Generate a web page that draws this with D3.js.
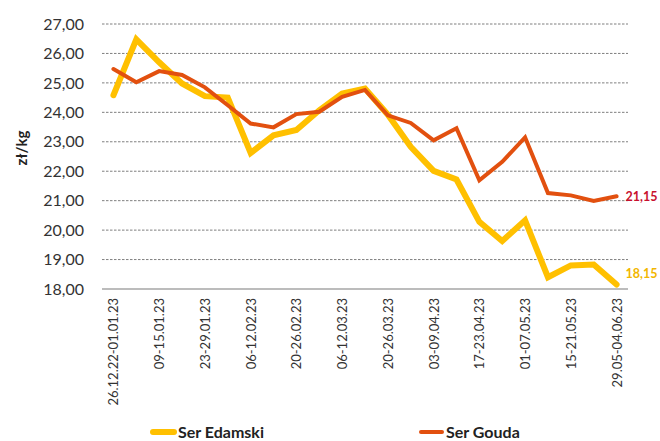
<!DOCTYPE html>
<html>
<head>
<meta charset="utf-8">
<script src="https://cdn.jsdelivr.net/npm/d3@7"></script>
<style>
  body { margin: 0; background: #fff; }
  svg { display: block; font-family: Lato, "Open Sans", sans-serif; }
</style>
</head>
<body>
<svg id="chart" width="660" height="441"></svg>
<script>
const weeks = [
    "26.12.22-01.01.23", "02-08.01.23", "09-15.01.23", "16-22.01.23", "23-29.01.23",
    "30.01-05.02.23", "06-12.02.23", "13-19.02.23", "20-26.02.23", "27.02-05.03.23",
    "06-12.03.23", "13-19.03.23", "20-26.03.23", "27.03-02.04.23", "03-09.04.23",
    "10-16.04.23", "17-23.04.23", "24-30.04.23", "01-07.05.23", "08-14.05.23",
    "15-21.05.23", "22-28.05.23", "29.05-04.06.23"
];
const edamski = [24.58, 26.48, 25.70, 24.98, 24.55, 24.50, 22.62, 23.22, 23.40, 24.07,
    24.64, 24.81, 23.92, 22.83, 22.01, 21.72, 20.28, 19.63, 20.33, 18.40, 18.80, 18.83, 18.15];
const gouda = [25.47, 25.02, 25.40, 25.27, 24.85, 24.24, 23.62, 23.49, 23.94, 24.02,
    24.53, 24.76, 23.90, 23.64, 23.05, 23.46, 21.69, 22.32, 23.15, 21.26, 21.18, 20.99, 21.15];
const yTicks = [18, 19, 20, 21, 22, 23, 24, 25, 26, 27];

const CONF = {
    LEFT: 102,
    RIGHT: 628,
    TOP: 24,
    BOTTOM: 289,
};

const svg = d3.select("#chart");
const fmt = v => d3.format(".2f")(v).replace(".", ",");

const x = d3.scalePoint()
    .domain(weeks)
    .range([CONF.LEFT, CONF.RIGHT])
    .padding(0.5);

const y = d3.scaleLinear()
    .domain([18, 27])
    .range([CONF.BOTTOM, CONF.TOP]);

// grid
svg.append("g")
    .selectAll("line")
    .data(yTicks.filter(d => d > 18))
    .join("line")
    .attr("x1", CONF.LEFT)
    .attr("x2", CONF.RIGHT)
    .attr("y1", d => y(d))
    .attr("y2", d => y(d))
    .attr("stroke", "#7f7f7f")
    .attr("stroke-width", 1)
    .attr("stroke-dasharray", "2.5,1.5");

// y axis labels
const yAxis = d3.axisLeft(y).tickValues(yTicks).tickSize(0).tickPadding(0).tickFormat(fmt);
svg.append("g")
    .attr("transform", `translate(84,0)`)
    .call(yAxis)
    .call(g => g.select(".domain").remove())
    .selectAll("text")
    .attr("font-family", "Lato, sans-serif")
    .attr("font-size", 16)
    .attr("fill", "#333");

// x axis
const xAxis = d3.axisBottom(x)
    .tickValues(weeks.filter((d, i) => i % 2 === 0))
    .tickSize(0)
    .tickPadding(0);
svg.append("g")
    .attr("transform", `translate(0,${CONF.BOTTOM})`)
    .call(xAxis)
    .call(g => g.select(".domain")
        .attr("d", `M${CONF.LEFT},0H${CONF.RIGHT}`)
        .attr("stroke", "#a6a6a6")
        .attr("stroke-width", 1.5))
    .selectAll("text")
    .attr("font-family", "Lato, sans-serif")
    .attr("font-size", 13)
    .attr("fill", "#333")
    .attr("text-anchor", "end")
    .attr("transform", "rotate(-90)")
    .attr("x", -9)
    .attr("y", 0)
    .attr("dy", "0.35em");

// y title
svg.append("text")
    .attr("transform", "translate(27,148) rotate(-90)")
    .attr("text-anchor", "middle")
    .attr("font-family", "Lato, sans-serif")
    .attr("font-weight", "bold")
    .attr("font-size", 15)
    .attr("fill", "#222")
    .text("zł/kg");

const line = d3.line()
    .x((d, i) => x(weeks[i]))
    .y(d => y(d));

svg.append("path")
    .datum(edamski)
    .attr("fill", "none")
    .attr("stroke", "#ffc000")
    .attr("stroke-width", 6)
    .attr("stroke-linejoin", "miter")
    .attr("stroke-linecap", "round")
    .attr("d", line);

svg.append("path")
    .datum(gouda)
    .attr("fill", "none")
    .attr("stroke", "#e2500f")
    .attr("stroke-width", 4)
    .attr("stroke-linejoin", "miter")
    .attr("stroke-linecap", "round")
    .attr("d", line);

// end labels
const last = weeks.length - 1;
const endLabels = [
    { value: gouda[last], color: "#c8102e", dy: 0 },
    { value: edamski[last], color: "#f2b600", dy: -11 },
];
svg.append("g")
    .selectAll("text")
    .data(endLabels)
    .join("text")
    .attr("x", x(weeks[last]) + 9)
    .attr("y", d => y(d.value) + d.dy)
    .attr("dy", "0.35em")
    .attr("font-family", "Lato, sans-serif")
    .attr("font-weight", "bold")
    .attr("font-size", 12.5)
    .attr("fill", d => d.color)
    .text(d => fmt(d.value));

// legend
const legend = [
    { name: "Ser Edamski", color: "#ffc000", width: 6, x: 153 },
    { name: "Ser Gouda", color: "#e2500f", width: 4, x: 421 },
];
const lg = svg.append("g")
    .selectAll("g")
    .data(legend)
    .join("g")
    .attr("transform", d => `translate(${d.x},432)`);
lg.append("line")
    .attr("x1", 0).attr("x2", 21)
    .attr("stroke", d => d.color)
    .attr("stroke-width", d => d.width)
    .attr("stroke-linecap", "round");
lg.append("text")
    .attr("x", 25)
    .attr("dy", "0.35em")
    .attr("font-family", "Lato, sans-serif")
    .attr("font-weight", "bold")
    .attr("font-size", 16)
    .attr("fill", "#222")
    .text(d => d.name);
</script>
</body>
</html>
